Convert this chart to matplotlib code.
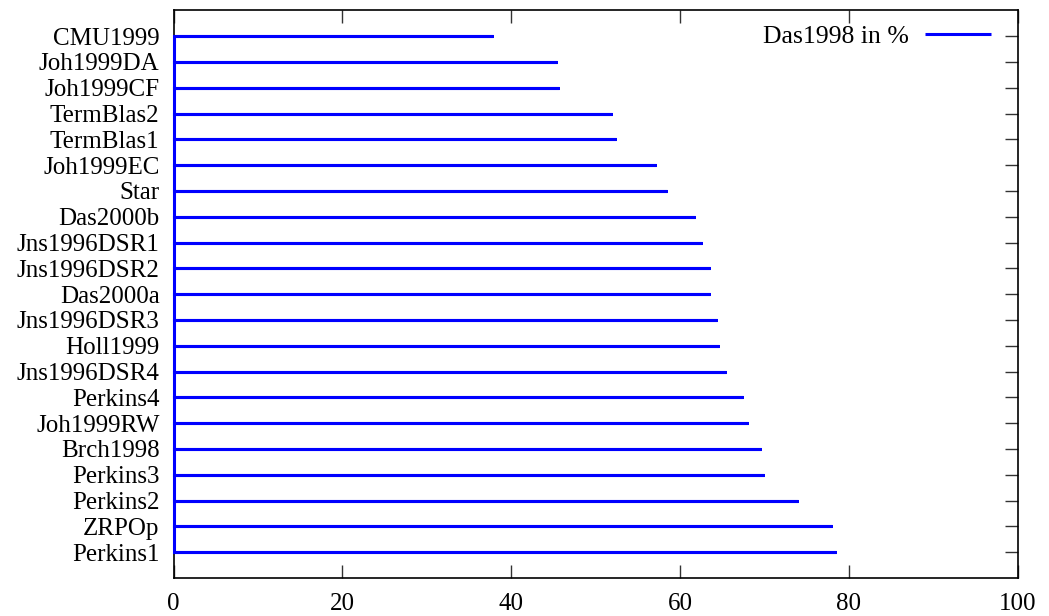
import matplotlib
matplotlib.use("Agg")
import matplotlib.pyplot as plt
import numpy as np

categories = ["CMU1999", "Joh1999DA", "Joh1999CF", "TermBlas2", "TermBlas1",
              "Joh1999EC", "Star", "Das2000b", "Jns1996DSR1", "Jns1996DSR2",
              "Das2000a", "Jns1996DSR3", "Holl1999", "Jns1996DSR4", "Perkins4",
              "Joh1999RW", "Brch1998", "Perkins3", "Perkins2", "ZRPOp", "Perkins1"]
values = [37.8, 45.4, 45.7, 51.9, 52.4,
          57.1, 58.5, 61.8, 62.6, 63.5,
          63.6, 64.4, 64.6, 65.4, 67.5,
          68.1, 69.6, 69.9, 74.0, 78.0, 78.5]
series_label = "Das1998 in %"
x_ticks = [0, 20, 40, 60, 80, 100]

plt.rcParams['font.family'] = ['Liberation Serif', 'DejaVu Serif']

fig = plt.figure(figsize=(10.49, 6.16), dpi=100)
ax = fig.add_axes([0.1654, 0.0617, 0.9702 - 0.1654, 0.9833 - 0.0617])

n = len(categories)
ypos = np.arange(n)[::-1]

# one connected path: 0 -> value -> 0 for each category (gnuplot-like impulses)
xs, ys = [], []
for y, v in zip(ypos, values):
    xs += [0, v, 0]
    ys += [y, y, y]
ax.plot(xs, ys, color="#0000ff", lw=2.2, solid_capstyle="butt",
        solid_joinstyle="miter", label=series_label, clip_on=False, zorder=3)

ax.set_xlim(0, 100)
ax.set_ylim(-1, n)
ax.set_xticks(x_ticks)
ax.set_xticklabels([str(t) for t in x_ticks])
ax.set_yticks(ypos)
ax.set_yticklabels(categories)

ax.tick_params(axis="both", direction="in", length=9.4, width=1.0,
               color="#333333", labelsize=18, top=True, right=True)
ax.tick_params(axis="x", pad=11)
ax.tick_params(axis="y", pad=10)

for s in ax.spines.values():
    s.set_linewidth(1.2)
    s.set_color("black")

leg = ax.legend(loc="upper right", frameon=False, markerfirst=False,
                fontsize=18.5, handlelength=2.57, handletextpad=0.66,
                borderaxespad=0.0, bbox_to_anchor=(0.981, 0.993))

fig.savefig("out.png", dpi=100)
